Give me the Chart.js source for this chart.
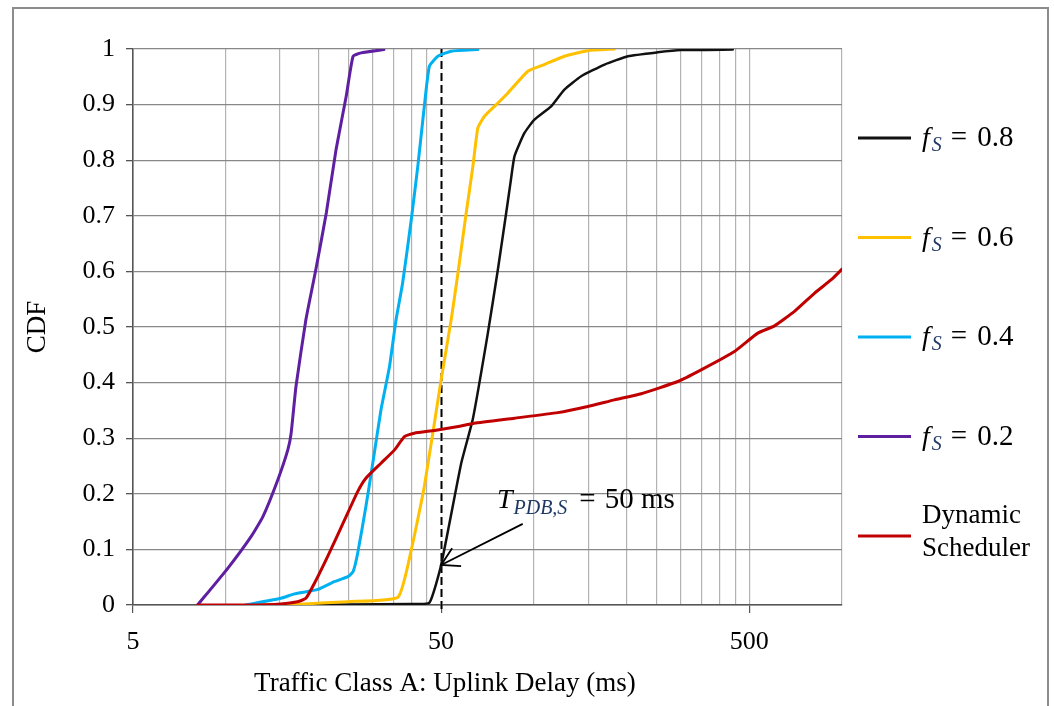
<!DOCTYPE html>
<html><head><meta charset="utf-8">
<script src="https://cdn.jsdelivr.net/npm/chart.js@4.4.1/dist/chart.umd.min.js"></script>
<style>html,body{margin:0;padding:0;background:#fff;overflow:hidden;} canvas{display:block;}</style>
</head><body>
<canvas id="c" width="1054" height="706"></canvas>
<script>
// ---- tick definitions ----
const xTicks = [5,10,15,20,25,30,35,40,45,50,100,150,200,250,300,350,400,450,500,1000];
const xLabelTicks = [5,50,500];
const yTickLabels = ['0','0.1','0.2','0.3','0.4','0.5','0.6','0.7','0.8','0.9','1'];

// ---- series (delay ms, CDF) ----
const fs08X = [12, 25, 40, 45.8, 50, 58.1, 63.4, 70.9, 76.4, 81.3, 84, 86.5, 93.2, 100.4, 113.8, 125.6, 142.4, 169.6, 202, 252, 300, 442];
const fs08Y = [0, 0.001, 0.002, 0.004, 0.072, 0.255, 0.335, 0.489, 0.603, 0.705, 0.76, 0.807, 0.849, 0.873, 0.897, 0.927, 0.951, 0.972, 0.987, 0.994, 0.998, 0.999];

const fs06X = [13, 18, 24.9, 36.2, 40, 44.1, 50, 53.9, 56.7, 60.3, 63.4, 65.8, 69.1, 75.5, 82.4, 95.6, 108, 125.6, 149.6, 182.6];
const fs06Y = [0, 0.002, 0.006, 0.014, 0.099, 0.213, 0.405, 0.513, 0.597, 0.705, 0.789, 0.858, 0.879, 0.9, 0.921, 0.96, 0.972, 0.987, 0.997, 1.0];

const fs04X = [11.6, 15.1, 16.7, 19.9, 22.5, 24.9, 25.9, 26.8, 28.5, 30.0, 31.9, 34.0, 35.7, 37.5, 40.0, 42.0, 44.1, 45.8, 48.8, 53.9, 65.8];
const fs04Y = [0, 0.012, 0.02, 0.028, 0.042, 0.051, 0.06, 0.093, 0.177, 0.255, 0.351, 0.429, 0.513, 0.579, 0.693, 0.789, 0.897, 0.969, 0.987, 0.996, 0.999];

const fs02X = [8.1, 10.15, 12.08, 13.2, 14.75, 15.9, 16.3, 16.9, 18.2, 19.6, 21.2, 22.8, 24.6, 25.9, 27.5, 32.6];
const fs02Y = [0, 0.066, 0.123, 0.159, 0.225, 0.279, 0.309, 0.393, 0.513, 0.603, 0.705, 0.819, 0.915, 0.987, 0.993, 0.999];

const dynX = [8.1, 11.8, 15.1, 17.1, 18.2, 19.4, 21.4, 24.3, 26.8, 28.5, 31.9, 35.3, 38.0, 40.9, 47.6, 58.1, 64.0, 86.5, 119.6, 149.6, 182.6, 223, 293, 349, 448, 533, 604, 701, 815, 923, 1000];
const dynY = [0, 0, 0.002, 0.006, 0.012, 0.039, 0.087, 0.153, 0.204, 0.228, 0.255, 0.279, 0.303, 0.309, 0.314, 0.322, 0.327, 0.336, 0.346, 0.357, 0.369, 0.38, 0.402, 0.423, 0.456, 0.489, 0.502, 0.528, 0.561, 0.585, 0.604];

const seriesNames = ['0.8', '0.6', '0.4', '0.2', 'Dynamic Scheduler'];
const seriesColors = ['#111111', '#FFC000', '#00B0F0', '#5E1FA0', '#C00000'];

// ---- annotation (data coords) ----
const thresholdX = 50;
const arrowTip = [50, 0.072];
const arrowTail = [92, 0.146];
const annotationPos = [77, 0.175];

function pts(xs, ys){ return xs.map((x,i)=>({x:x, y:ys[i]})); }

const serif = 'Liberation Serif, "Times New Roman", serif';

const overlay = {
  id: 'overlay',
  beforeDraw(chart){
    const c = chart.ctx;
    c.save();
    c.fillStyle = '#fff';
    c.fillRect(0,0,chart.width,chart.height);
    c.strokeStyle = '#8c8c8c';
    c.lineWidth = 2;
    c.strokeRect(13, 8, 1035, 730);
    c.restore();
  },
  beforeDatasetsDraw(chart){
    const c = chart.ctx, xs = chart.scales.x, ys = chart.scales.y;
    const px = Math.round(xs.getPixelForValue(thresholdX)) + 0.5;
    c.save();
    c.strokeStyle = '#fff'; c.lineWidth = 2;
    c.beginPath(); c.moveTo(px, ys.getPixelForValue(1)); c.lineTo(px, ys.getPixelForValue(0)); c.stroke();
    c.strokeStyle = '#000'; c.lineWidth = 2; c.setLineDash([8,4]);
    c.beginPath(); c.moveTo(px, ys.getPixelForValue(1)); c.lineTo(px, ys.getPixelForValue(0)+8); c.stroke();
    c.restore();
  },
  afterDatasetsDraw(chart){
    const c = chart.ctx, xs = chart.scales.x, ys = chart.scales.y, a = chart.chartArea;
    c.save();
    // arrow
    const tx = xs.getPixelForValue(arrowTip[0]), ty = ys.getPixelForValue(arrowTip[1]);
    const sx = xs.getPixelForValue(arrowTail[0]), sy = ys.getPixelForValue(arrowTail[1]);
    c.strokeStyle = '#000'; c.lineWidth = 1.8;
    c.beginPath(); c.moveTo(sx, sy); c.lineTo(tx, ty); c.stroke();
    const ang = Math.atan2(sy-ty, sx-tx);
    const L = 20;
    c.beginPath();
    c.moveTo(tx + L*Math.cos(ang+0.52), ty + L*Math.sin(ang+0.52));
    c.lineTo(tx, ty);
    c.lineTo(tx + L*Math.cos(ang-0.52), ty + L*Math.sin(ang-0.52));
    c.stroke();
    // annotation text
    let ax = xs.getPixelForValue(annotationPos[0]) - 2, ay = ys.getPixelForValue(annotationPos[1]);
    c.textBaseline = 'alphabetic'; c.textAlign = 'left';
    c.fillStyle = '#000';
    c.font = 'italic 28px ' + serif;
    c.fillText('T', ax, ay);
    ax += c.measureText('T').width + 1;
    c.font = 'italic 20px ' + serif;
    c.fillStyle = '#1F3864';
    c.fillText('PDB,S', ax, ay + 6);
    ax += c.measureText('PDB,S').width + 12;
    c.fillStyle = '#000';
    c.font = '29px ' + serif;
    c.fillText('=', ax, ay);
    ax += c.measureText('=').width + 9;
    c.fillText('50 ms', ax, ay);

    // legend
    const lx0 = a.right + 16, lx1 = a.right + 69, tx0 = a.right + 80;
    for (let i = 0; i < seriesNames.length; i++){
      const ly = a.top + 89 + i*99.5;
      c.strokeStyle = seriesColors[i]; c.lineWidth = 3;
      c.beginPath(); c.moveTo(lx0, ly); c.lineTo(lx1, ly); c.stroke();
      c.fillStyle = '#000';
      if (i < 4){
        let x = tx0;
        c.font = 'italic 28px ' + serif;
        c.fillText('f', x, ly + 8);
        x += c.measureText('f').width + 2;
        c.font = 'italic 20px ' + serif;
        c.fillStyle = '#1F3864';
        c.fillText('S', x, ly + 13);
        x += c.measureText('S').width + 9;
        c.fillStyle = '#000';
        c.font = '29px ' + serif;
        c.fillText('=', x, ly + 8);
        x += c.measureText('=').width + 10;
        c.fillText(seriesNames[i], x, ly + 8);
      } else {
        c.font = '27px ' + serif;
        const parts = seriesNames[i].split(' ');
        c.fillText(parts[0], tx0, ly - 13);
        c.fillText(parts[1], tx0, ly + 20);
      }
    }

    // axis titles
    c.fillStyle = '#000';
    c.font = '27px ' + serif;
    c.textAlign = 'center'; c.textBaseline = 'middle';
    c.fillText('Traffic Class A: Uplink Delay (ms)', a.left + 0.44*(a.right-a.left), a.bottom + 79);
    c.translate(38, (a.top + a.bottom)/2);
    c.rotate(-Math.PI/2);
    c.fillText('CDF', 0, 0);
    c.restore();
  }
};

const mk = (i, xs, ys, w, ord) => ({
  label: seriesNames[i], data: pts(xs, ys), borderColor: seriesColors[i], backgroundColor: seriesColors[i],
  borderWidth: w, pointRadius: 0, tension: 0.15, fill: false, order: ord, borderJoinStyle: 'round', borderCapStyle: 'round'
});

new Chart(document.getElementById('c'), {
  type: 'line',
  data: { datasets: [
    mk(0, fs08X, fs08Y, 2.5, 5),
    mk(1, fs06X, fs06Y, 3, 4),
    mk(2, fs04X, fs04Y, 3, 3),
    mk(3, fs02X, fs02Y, 3, 2),
    mk(4, dynX, dynY, 3, 1)
  ]},
  options: {
    responsive: false, animation: false, devicePixelRatio: 1,
    layout: { padding: { left: 0, top: 49, right: 212, bottom: 0 } },
    plugins: { legend: { display: false }, tooltip: { enabled: false } },
    scales: {
      x: {
        type: 'logarithmic', min: 5, max: 1000,
        afterBuildTicks: s => { s.ticks = xTicks.map(v => ({ value: v })); },
        afterFit: s => { s.height = 101; },
        ticks: {
          autoSkip: false, maxRotation: 0, minRotation: 0, padding: 14, color: '#000',
          font: { family: serif, size: 26 },
          callback: v => xLabelTicks.includes(v) ? String(v) : ''
        },
        grid: {
          color: ctx => (ctx.tick && ctx.tick.value === 5) ? '#555' : '#b2b2b2',
          lineWidth: 1.2, tickLength: 8,
          tickColor: ctx => (ctx.tick && xLabelTicks.includes(ctx.tick.value)) ? '#555' : 'rgba(0,0,0,0)'
        },
        border: { color: '#555', width: 1.5 }
      },
      y: {
        type: 'linear', min: 0, max: 1,
        afterFit: s => { s.width = 133; },
        ticks: {
          stepSize: 0.1, padding: 11, color: '#000',
          font: { family: serif, size: 26 },
          callback: v => yTickLabels[Math.round(v*10)]
        },
        grid: { color: '#888', lineWidth: 1.3, tickLength: 7, tickColor: '#555' },
        border: { color: '#555', width: 1.5 }
      }
    }
  },
  plugins: [overlay]
});
</script>
</body></html>
